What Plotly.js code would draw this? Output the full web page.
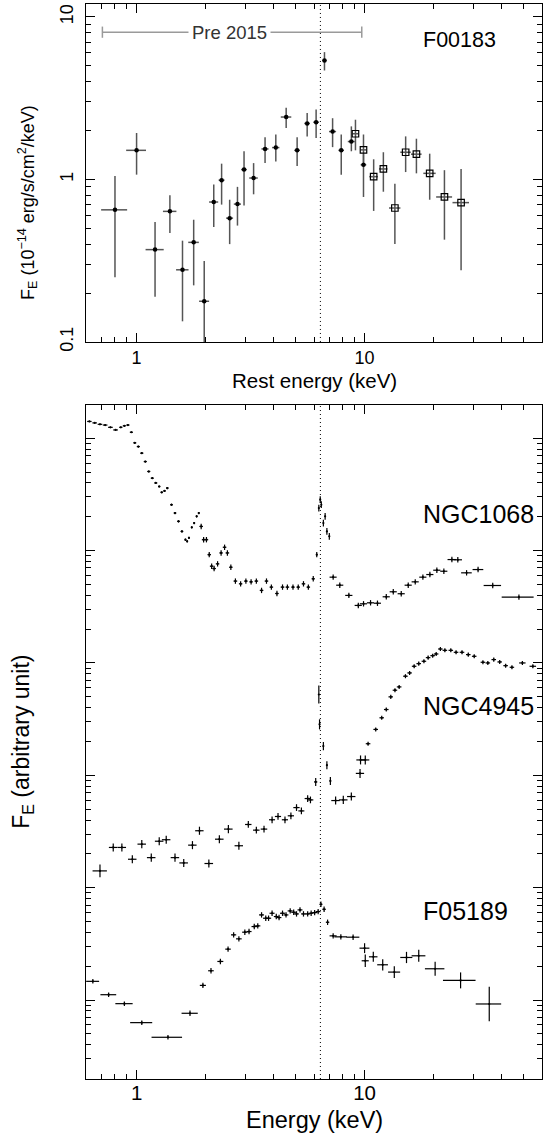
<!DOCTYPE html>
<html><head><meta charset="utf-8">
<script src="https://cdn.plot.ly/plotly-3.0.1.min.js"></script>
<style>html,body{margin:0;padding:0;background:#fff;}#chart{width:548px;height:1139px;}</style>
</head><body><div id="chart"></div>
<script>
// ---------- Top panel: F00183 (rest-frame spectrum) ----------
const E_DOT  = [0.804,1.0,1.205,1.40,1.59,1.78,1.98,2.18,2.36,2.56,2.77,2.96,3.26,3.66,4.08,4.53,5.06,5.6,6.13,6.67,7.24,7.90,8.75,9.89];
const F_DOT  = [0.65,1.51,0.37,0.636,0.278,0.41,0.178,0.726,0.99,0.578,0.705,1.15,1.02,1.54,1.57,2.42,1.51,2.21,2.25,5.39,1.97,1.51,1.71,1.23];
const LO_DOT = [0.25,1.07,0.19,0.468,0.134,0.223,0.05,0.51,0.7,0.40,0.52,0.69,0.81,1.26,1.29,2.07,1.21,1.84,1.80,4.68,1.58,1.07,1.49,0.78];
const HI_DOT = [1.05,1.93,0.547,0.80,0.42,0.565,0.315,0.93,1.25,0.75,0.90,1.49,1.26,1.82,1.89,2.76,1.82,2.56,2.69,6.07,2.38,1.89,2.12,1.43];
const XERR_DOT = [0.105,0.10,0.11,0.095,0.1,0.095,0.1,0.1,0.07,0.09,0.1,0.085,0.14,0.13,0.15,0.24,0.14,0.16,0.17,0.14,0.26,0.22,0.31,0.28];

const E_SQ  = [9.12,9.89,10.96,12.09,13.58,15.14,16.88,19.3,22.4,26.5];
const F_SQ  = [1.91,1.52,1.04,1.16,0.667,1.47,1.43,1.09,0.78,0.72];
const LO_SQ = [1.51,1.28,0.64,0.84,0.40,1.11,1.09,0.75,0.426,0.276];
const HI_SQ = [2.33,1.89,1.33,1.47,0.94,1.84,1.78,1.44,1.14,1.16];
const XERR_SQ = [0.26,0.28,0.47,0.52,0.78,0.8,0.9,1.2,1.8,2.2];

const PRE2015_RANGE = [0.708, 9.72];
const PRE2015_LEVEL = 8.05;
const FE_LINE = 6.4;

// ---------- Bottom panel (arbitrary units) ----------
const E1068 = [0.621,0.655,0.691,0.728,0.768,0.809,0.853,0.884,0.916,0.949,
  0.982,1.018,1.054,1.092,1.131,1.172,1.214,1.257,1.289,1.326,
  1.364,1.423,1.474,1.527,1.581,1.638,1.667,1.697,1.746,1.789,
  1.834,1.874,
  1.920,1.968,2.025,2.083,2.134,2.188,2.266,2.348,2.432,2.502,
  2.591,2.713,2.860,3.016,3.179,3.352,3.533,3.713,3.901,4.127,
  4.366,4.586,4.853,5.117,5.395,5.667,5.955,6.169,6.300,6.390,
  6.460,6.596,6.714,6.834,7.004,7.281,7.785,8.533,9.385,9.894,
  10.62,11.39,12.45,13.36,14.48,15.54,16.68,18.02,19.34,20.75,
  22.27,24.15,25.64,28.01,31.46,36.48,47.53];
const F1068 = [1.41e5,1.37e5,1.33e5,1.31e5,1.25e5,1.185e5,1.25e5,1.29e5,1.31e5,1.13e5,
  9.1e4,8.43e4,7.36e4,6.2e4,5.06e4,4.41e4,4.0e4,3.72e4,3.3e4,3.4e4,
  3.6e4,2.56e4,2.16e4,1.82e4,1.48e4,1.25e4,1.21e4,1.30e4,1.61e4,1.76e4,
  2.02e4,2.16e4,
  1.64e4,1.25e4,1.25e4,9.2e3,7.26e3,6.92e3,7.62e3,9.53e3,1.07e4,9.53e3,
  7.11e3,5.35e3,5.06e3,5.35e3,5.27e3,5.35e3,4.42e3,5.35e3,4.73e3,4.15e3,
  4.73e3,4.73e3,4.73e3,4.73e3,5.06e3,4.73e3,5.61e3,9.2e3,2.39e4,2.84e4,
  2.56e4,1.76e4,2.02e4,1.48e4,1.34e4,5.8e3,4.92e3,3.99e3,3.25e3,3.36e3,
  3.43e3,3.4e3,3.88e3,4.3e3,4.13e3,4.92e3,5.27e3,5.8e3,6.12e3,6.69e3,
  6.55e3,8.32e3,8.28e3,6.34e3,6.78e3,4.89e3,3.85e3];
const XERR1068 = [0.014,0.015,0.016,0.017,0.018,0.019,0.014,0.014,0.015,0.015,
  0.015,0.016,0.017,0.017,0.018,0.018,0.019,0.015,0.016,0.017,
  0.018,0.02,0.02,0.021,0.022,0.014,0.014,0.014,0.015,0.016,
  0.016,0.017,
  0.035,0.035,0.036,0.037,0.038,0.04,0.04,0.042,0.044,0.045,
  0.047,0.05,0.05,0.055,0.057,0.06,0.064,0.067,0.07,0.075,
  0.08,0.083,0.087,0.092,0.097,0.1,0.1,0.05,0.02,0.02,
  0.02,0.03,0.03,0.03,0.04,0.26,0.28,0.31,0.34,0.36,
  0.38,0.41,0.45,0.48,0.52,0.56,0.6,0.65,0.7,0.75,
  0.8,1.04,1.1,1.5,1.7,3.2,7.6];
const YERR1068_DEX = [0.006,0.006,0.006,0.006,0.006,0.006,0.006,0.006,0.006,0.006,
  0.008,0.008,0.008,0.008,0.008,0.008,0.008,0.008,0.008,0.008,
  0.01,0.01,0.01,0.01,0.01,0.01,0.01,0.01,0.01,0.01,
  0.01,0.01,
  0.024,0.024,0.024,0.024,0.024,0.024,0.024,0.024,0.024,0.024,
  0.024,0.024,0.024,0.024,0.024,0.024,0.024,0.024,0.024,0.024,
  0.024,0.024,0.024,0.024,0.024,0.024,0.024,0.024,0.03,0.03,
  0.03,0.03,0.03,0.03,0.03,0.024,0.024,0.024,0.024,0.024,
  0.024,0.024,0.024,0.024,0.024,0.024,0.024,0.024,0.024,0.024,
  0.024,0.024,0.024,0.024,0.024,0.024,0.024];

const E4945 = [0.691,0.790,0.862,0.958,1.054,1.160,1.257,1.349,1.474,1.610,
  1.758,1.887,2.075,2.307,2.527,2.810,3.091,3.352,3.622,3.929,
  4.172,4.476,4.752,5.029,5.283,5.628,5.789,6.104,6.300,6.345,
  6.596,6.834,7.079,7.464,8.066,8.748,9.552,9.60,10.07,10.36,
  11.19,11.89,12.45,13.03,13.59,14.18,15.11,15.76,16.50,17.28,
  18.21,19.00,19.89,20.61,21.50,22.50,23.89,25.19,26.75,28.50,
  30.26,33.04,34.72,36.87,39.14,41.56,44.29,49.22,54.71];
const F4945 = [14.1,22.8,22.8,17.9,24.4,18.5,25.9,26.7,18.5,16.6,
  23.9,32.1,16.4,27.0,33.2,23.6,36.5,32.5,33.2,40.2,
  43.0,40.2,43.6,51.6,48.2,62.1,60.4,87.3,524,284,
  182,123,89.1,59.6,60.4,64.7,104,137,137,191,
  256,325,385,499,572,612,762,815,934,986,
  1035,1115,1161,1202,1331,1295,1295,1244,1244,1186,
  1146,1014,1000,1071,1021,946,915,1000,934];
const XERR4945 = [0.05,0.034,0.037,0.041,0.045,0.05,0.054,0.058,0.063,0.07,
  0.075,0.08,0.09,0.1,0.11,0.12,0.1,0.11,0.12,0.12,
  0.13,0.14,0.15,0.16,0.16,0.17,0.17,0.1,0.02,0.02,
  0.04,0.04,0.05,0.32,0.35,0.37,0.4,0.4,0.42,0.24,
  0.26,0.27,0.29,0.3,0.31,0.33,0.35,0.36,0.38,0.4,
  0.42,0.44,0.46,0.47,0.49,0.52,0.55,0.58,0.62,0.66,
  0.7,0.76,0.8,0.85,0.9,0.96,1.0,1.6,1.8];
const YERR4945_DEX = [0.056,0.036,0.036,0.036,0.036,0.036,0.036,0.036,0.036,0.036,
  0.036,0.036,0.036,0.036,0.036,0.036,0.03,0.03,0.03,0.03,
  0.03,0.03,0.03,0.03,0.03,0.03,0.03,0.036,0.08,0.045,
  0.036,0.036,0.036,0.036,0.036,0.036,0.04,0.04,0.04,0.018,
  0.018,0.018,0.018,0.018,0.018,0.018,0.018,0.018,0.018,0.018,
  0.018,0.018,0.018,0.018,0.018,0.018,0.018,0.018,0.018,0.018,
  0.018,0.018,0.018,0.018,0.018,0.018,0.018,0.018,0.018];

const E05189 = [0.643,0.754,0.884,1.054,1.373,1.715,1.954,2.120,2.331,2.519,
  2.665,2.810,2.984,3.113,3.282,3.400,3.533,3.686,3.792,3.929,
  4.099,4.216,4.366,4.523,4.718,4.887,5.029,5.209,5.395,5.628,
  5.830,6.039,6.256,6.435,6.644,6.882,7.281,7.869,8.904,10.0,
  10.07,10.92,12.01,13.50,15.27,17.28,20.39,26.37,35.22];
const F05189 = [1.466,1.115,0.928,0.629,0.466,0.762,1.349,1.821,2.204,2.836,
  3.801,3.503,4.014,4.069,4.506,4.569,5.72,5.345,5.345,5.918,
  5.53,5.418,5.918,5.72,6.21,6.04,5.84,6.34,5.84,5.84,
  5.918,6.0,6.12,7.11,6.42,4.92,3.724,3.649,3.624,2.894,
  2.235,2.424,2.059,1.772,2.391,2.475,1.897,1.495,0.922];
const XERR05189 = [0.042,0.06,0.077,0.117,0.21,0.14,0.06,0.06,0.07,0.07,
  0.07,0.08,0.08,0.08,0.09,0.09,0.09,0.1,0.1,0.1,
  0.1,0.1,0.11,0.11,0.12,0.12,0.12,0.13,0.13,0.14,
  0.14,0.15,0.15,0.1,0.12,0.12,0.26,0.5,0.58,0.5,
  0.36,0.47,0.65,0.82,0.93,1.2,2.0,4.3,4.5];
const YERR05189_DEX = [0.02,0.02,0.02,0.02,0.02,0.025,0.024,0.024,0.024,0.024,
  0.024,0.024,0.024,0.024,0.024,0.024,0.024,0.024,0.024,0.024,
  0.024,0.024,0.024,0.024,0.024,0.024,0.024,0.024,0.024,0.024,
  0.024,0.024,0.024,0.024,0.024,0.024,0.024,0.024,0.024,0.044,
  0.056,0.044,0.05,0.053,0.05,0.053,0.062,0.071,0.154];

// ---------- helpers ----------
const FONT = 'Liberation Sans, Arial, Helvetica, sans-serif';
const up = (v, hi) => v.map((y, i) => hi[i] - y);
const down = (v, lo) => v.map((y, i) => y - lo[i]);
const dexPlus = (v, d) => v.map((y, i) => y * (Math.pow(10, d[i]) - 1));
const dexMinus = (v, d) => v.map((y, i) => y * (1 - Math.pow(10, -d[i])));

function spectrum(E, F, xe, yd) {
  return {
    x: E, y: F, xaxis: 'x2', yaxis: 'y2', mode: 'markers', type: 'scatter',
    marker: {color: '#000', size: 2.2},
    error_x: {type: 'data', array: xe, color: '#000', thickness: 1.2, width: 0},
    error_y: {type: 'data', symmetric: false, array: dexPlus(F, yd), arrayminus: dexMinus(F, yd),
              color: '#000', thickness: 1.2, width: 0},
    hoverinfo: 'skip'
  };
}

const traces = [
  {x: PRE2015_RANGE, y: [PRE2015_LEVEL, PRE2015_LEVEL], xaxis: 'x', yaxis: 'y',
   mode: 'lines+markers', type: 'scatter', line: {color: '#9a9a9a', width: 1.5},
   marker: {symbol: 'line-ns-open', size: 8, color: '#9a9a9a', line: {color: '#9a9a9a', width: 1.5}}},
  {x: E_DOT, y: F_DOT, xaxis: 'x', yaxis: 'y', mode: 'markers', type: 'scatter',
   marker: {color: '#000', size: 4.5},
   error_x: {type: 'data', array: XERR_DOT, color: '#555', thickness: 1.5, width: 0},
   error_y: {type: 'data', symmetric: false, array: up(F_DOT, HI_DOT), arrayminus: down(F_DOT, LO_DOT),
             color: '#555', thickness: 1.5, width: 0}},
  {x: E_SQ, y: F_SQ, xaxis: 'x', yaxis: 'y', mode: 'markers', type: 'scatter',
   marker: {symbol: 'square-open', color: '#000', size: 6.5, line: {color: '#000', width: 1.2}},
   error_x: {type: 'data', array: XERR_SQ, color: '#555', thickness: 1.5, width: 0},
   error_y: {type: 'data', symmetric: false, array: up(F_SQ, HI_SQ), arrayminus: down(F_SQ, LO_SQ),
             color: '#555', thickness: 1.5, width: 0}},
  spectrum(E1068, F1068, XERR1068, YERR1068_DEX),
  spectrum(E4945, F4945, XERR4945, YERR4945_DEX),
  spectrum(E05189, F05189, XERR05189, YERR05189_DEX)
];

const common = {
  type: 'log', showline: true, linecolor: '#000', linewidth: 1, mirror: 'allticks',
  ticks: 'inside', ticklen: 9, tickwidth: 1, tickcolor: '#000', dtick: 1,
  showgrid: false, zeroline: false,
  minor: {ticks: 'inside', ticklen: 5, tickwidth: 1, tickcolor: '#000', dtick: 'D1', showgrid: false}
};

const layout = {
  width: 548, height: 1139, margin: {l: 86, r: 6, t: 4, b: 60},
  paper_bgcolor: '#fff', plot_bgcolor: '#fff', showlegend: false,
  font: {family: FONT, color: '#000'},
  xaxis: Object.assign({}, common, {range: [Math.log10(0.6), Math.log10(60)], anchor: 'y',
    tickfont: {size: 18}, ticklabelstandoff: -1}),
  yaxis: Object.assign({}, common, {range: [-1, Math.log10(12)], domain: [0.6856, 1], anchor: 'x',
    tickangle: -90, tickfont: {size: 18}, ticklabelstandoff: 5}),
  xaxis2: Object.assign({}, common, {range: [Math.log10(0.6), Math.log10(60)], anchor: 'y2',
    tickfont: {size: 20.5}, ticklabelstandoff: -5}),
  yaxis2: Object.assign({}, common, {range: [-0.703, 5.296], domain: [0, 0.627], anchor: 'x2',
    showticklabels: false}),
  shapes: [
    {type: 'line', xref: 'x', yref: 'y domain', x0: FE_LINE, x1: FE_LINE, y0: 0, y1: 1,
     line: {color: '#000', width: 1, dash: '1px,3px'}},
    {type: 'line', xref: 'x2', yref: 'y2 domain', x0: FE_LINE, x1: FE_LINE, y0: 0, y1: 1,
     line: {color: '#000', width: 1, dash: '1px,3px'}}
  ],
  annotations: [
    {xref: 'x', yref: 'y', x: Math.log10(2.56), y: Math.log10(PRE2015_LEVEL), text: 'Pre 2015',
     showarrow: false, bgcolor: '#fff', borderpad: 3, font: {size: 18.5, color: '#333'}},
    {xref: 'paper', yref: 'paper', x: 0.735, y: 0.9663, xanchor: 'left', yanchor: 'middle',
     text: 'F00183', showarrow: false, font: {size: 21.5}},
    {xref: 'paper', yref: 'paper', x: 0.735, y: 0.5259, xanchor: 'left', yanchor: 'middle',
     text: 'NGC1068', showarrow: false, font: {size: 25}},
    {xref: 'paper', yref: 'paper', x: 0.735, y: 0.3466, xanchor: 'left', yanchor: 'middle',
     text: 'NGC4945', showarrow: false, font: {size: 25}},
    {xref: 'paper', yref: 'paper', x: 0.735, y: 0.156, xanchor: 'left', yanchor: 'middle',
     text: 'F05189', showarrow: false, font: {size: 25}},
    {xref: 'paper', yref: 'paper', x: -0.1294, y: 0.8158, xanchor: 'center', yanchor: 'middle',
     textangle: -90, showarrow: false, font: {size: 18},
     text: 'F<sub>E</sub> (10<sup>−14</sup> erg/s/cm<sup>2</sup>/keV)'},
    {xref: 'paper', yref: 'paper', x: -0.1395, y: 0.314, xanchor: 'center', yanchor: 'middle',
     textangle: -90, showarrow: false, font: {size: 23},
     text: 'F<sub>E</sub> (arbitrary unit)'},
    {xref: 'paper', yref: 'paper', x: 0.5, y: 0.6502, xanchor: 'center', yanchor: 'middle',
     showarrow: false, font: {size: 20.5}, text: 'Rest energy (keV)'},
    {xref: 'paper', yref: 'paper', x: 0.5, y: -0.0381, xanchor: 'center', yanchor: 'middle',
     showarrow: false, font: {size: 23.5}, text: 'Energy (keV)'}
  ]
};

Plotly.newPlot('chart', traces, layout, {displayModeBar: false, staticPlot: true});
</script></body></html>
